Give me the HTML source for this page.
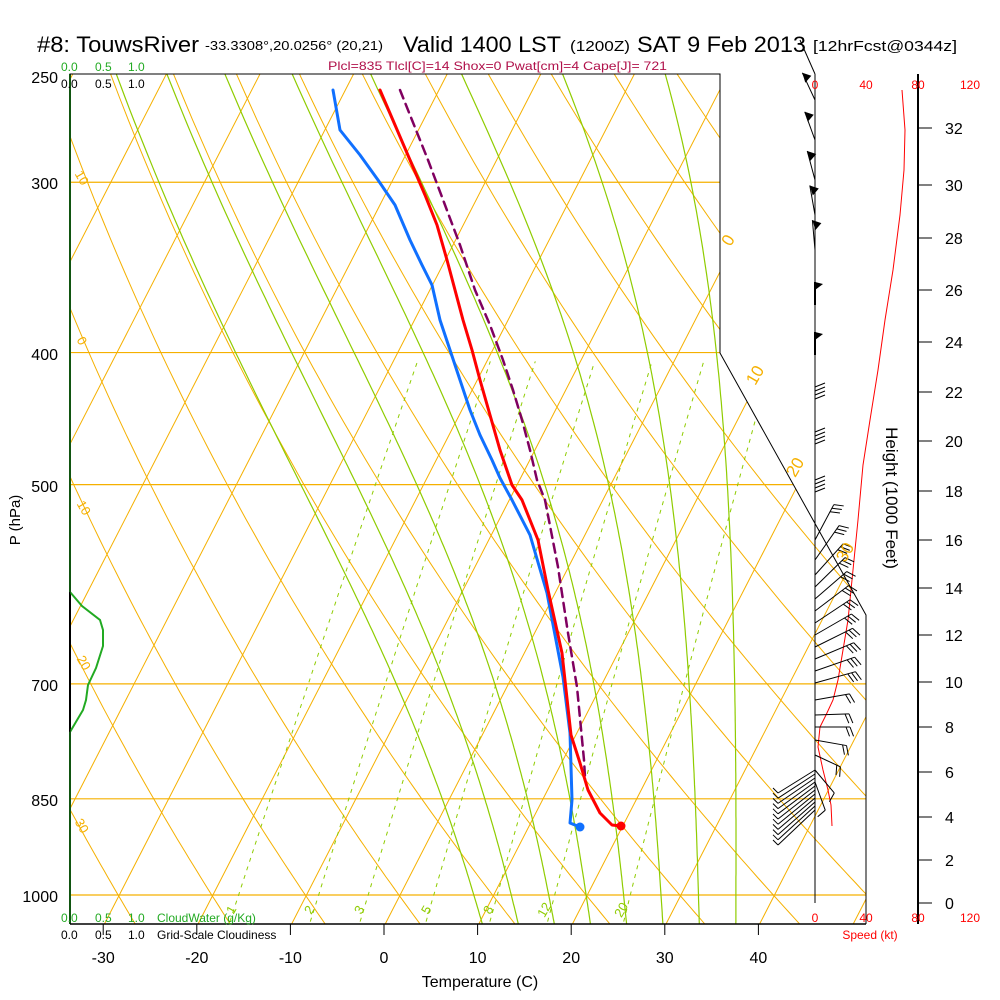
<!DOCTYPE html>
<html><head><meta charset="utf-8"><style>
html,body{margin:0;padding:0;background:#fff;}
svg{display:block;font-family:"Liberation Sans",Arial,sans-serif;}
</style></head><body>
<svg id="s" width="1000" height="1000" viewBox="0 0 1000 1000" xmlns="http://www.w3.org/2000/svg">
<defs><clipPath id="cp"><polygon points="70,74 720,74 720,353 866,615 866,924 70,924"/></clipPath></defs>
<g id="grid" clip-path="url(#cp)"></g>
<g id="prof"></g>
<polyline points="70,924 70,74 720,74 720,353 866,615 866,924" fill="none" stroke="#000" stroke-width="1"/>
<line x1="70" y1="924" x2="866" y2="924" stroke="#000" stroke-width="1.5"/>
<line x1="815" y1="74" x2="815" y2="903" stroke="#000" stroke-width="1"/>
<line x1="918" y1="74" x2="918" y2="924" stroke="#000" stroke-width="2"/>
<line x1="800" y1="40" x2="815" y2="74" stroke="#000" stroke-width="1"/>
<g id="ax"></g>
<text x="37" y="52" font-size="22" textLength="162" lengthAdjust="spacingAndGlyphs">#8: TouwsRiver</text>
<text x="205" y="50" font-size="13" textLength="178" lengthAdjust="spacingAndGlyphs">-33.3308°,20.0256° (20,21)</text>
<text x="403" y="52" font-size="22" textLength="158" lengthAdjust="spacingAndGlyphs">Valid 1400 LST</text>
<text x="570" y="51" font-size="15" textLength="60" lengthAdjust="spacingAndGlyphs">(1200Z)</text>
<text x="637" y="52" font-size="22" textLength="169" lengthAdjust="spacingAndGlyphs">SAT 9 Feb 2013</text>
<text x="813" y="51" font-size="15" textLength="144" lengthAdjust="spacingAndGlyphs">[12hrFcst@0344z]</text>
<text x="328" y="70" font-size="12" fill="#b0104a" textLength="339" lengthAdjust="spacingAndGlyphs">Plcl=835 Tlcl[C]=14 Shox=0 Pwat[cm]=4 Cape[J]= 721</text>
<g font-size="12" fill="#22aa22"><text x="61" y="71">0.0</text><text x="95" y="71">0.5</text><text x="128" y="71">1.0</text>
<text x="61" y="922">0.0</text><text x="95" y="922">0.5</text><text x="128" y="922">1.0</text><text x="157" y="922">CloudWater (g/Kg)</text></g>
<g font-size="12" fill="#000"><text x="61" y="88">0.0</text><text x="95" y="88">0.5</text><text x="128" y="88">1.0</text>
<text x="61" y="939">0.0</text><text x="95" y="939">0.5</text><text x="128" y="939">1.0</text><text x="157" y="939">Grid-Scale Cloudiness</text></g>
<g font-size="12" fill="#ff0000" text-anchor="middle"><text x="815" y="89">0</text><text x="866" y="89">40</text><text x="918" y="89">80</text><text x="970" y="89">120</text>
<text x="815" y="922">0</text><text x="866" y="922">40</text><text x="918" y="922">80</text><text x="970" y="922">120</text>
<text x="870" y="939">Speed (kt)</text></g>
<text x="480" y="987" font-size="16" text-anchor="middle">Temperature (C)</text>
<text transform="translate(20,520) rotate(-90)" font-size="15" text-anchor="middle">P (hPa)</text>
<text transform="translate(886,498) rotate(90)" font-size="17" text-anchor="middle">Height (1000 Feet)</text>
</svg>
<script>
(function(){
var NS="http://www.w3.org/2000/svg";
function el(p,t,a){var e=document.createElementNS(NS,t);for(var k in a)e.setAttribute(k,a[k]);p.appendChild(e);return e;}
function Y(p){return 895-592*Math.log(1000/p);}
function X(T,p){return 384+9.36*T+0.515*(924-Y(p));}
var g=document.getElementById('grid'),ax=document.getElementById('ax'),pr=document.getElementById('prof');
var OR="#f5b000",GR="#8fcc00";
function path(pts){return pts.map(function(q,i){return (i?'L':'M')+q[0].toFixed(1)+','+q[1].toFixed(1);}).join(' ');}
[300,400,500,700,850,1000].forEach(function(p){el(g,'line',{x1:70,x2:870,y1:Y(p),y2:Y(p),stroke:OR,'stroke-width':1.2});});
for(var T=-130;T<=50;T+=10){el(g,'line',{x1:X(T,1046),y1:924,x2:X(T,250),y2:74,stroke:OR,'stroke-width':1});}
for(var th=-40;th<=180;th+=10){var pts=[];for(var p=1050;p>=240;p-=10){var Tk=(th+273.15)*Math.pow(p/1000,0.286);pts.push([X(Tk-273.15,p),Y(p)]);}el(g,'path',{d:path(pts),fill:'none',stroke:OR,'stroke-width':1});}
function es(T){return 6.112*Math.exp(17.67*T/(T+243.5));}
function rs(T,p){var e=es(T);return 0.68*0.622*e/(p-e);}
function step(Tk,p){var r=rs(Tk-273.15,p);return (287*Tk+2.5e6*r)/(p*(1004+2.5e6*2.5e6*r*0.622/(287*Tk*Tk)));}
for(var tw=8;tw<=36;tw+=4){var Tk=tw+273.15,p,up=[],dn=[];
 for(p=1000;p>=240;p-=5){up.push([X(Tk-273.15,p),Y(p)]);Tk-=step(Tk,p)*5;}
 Tk=tw+273.15;for(p=1000;p<=1050;p+=5){dn.push([X(Tk-273.15,p),Y(p)]);Tk+=step(Tk,p)*5;}
 el(g,'path',{d:path(dn.reverse().concat(up)),fill:'none',stroke:GR,'stroke-width':1.2});}
[1,2,3,5,8,12,20].forEach(function(w){var pts=[];for(var p=1046;p>=400;p-=10){var e=w/1000*p/(0.622+w/1000);var l=Math.log(e/6.112);var T=243.5*l/(17.67-l);pts.push([X(T,p),Y(p)]);}el(g,'path',{d:path(pts),fill:'none',stroke:GR,'stroke-width':1,'stroke-dasharray':'4,5'});});
var ml=[["1",235],["2",313],["3",363],["5",430],["8",492],["12",548],["20",625]];
ml.forEach(function(m){var t=el(g,'text',{transform:'translate('+m[1]+',912) rotate(-60)','font-size':13,fill:GR,'text-anchor':'middle'});t.textContent=m[0];});
[["10",78,180],["0",78,343],["10",80,510],["20",80,665],["30",78,828]].forEach(function(m){var t=el(ax,'text',{transform:'translate('+m[1]+','+m[2]+') rotate(60)','font-size':13,fill:OR,'text-anchor':'middle'});t.textContent=m[0];});
[["0",733,243],["10",760,378],["20",800,470],["30",850,555]].forEach(function(m){var t=el(ax,'text',{transform:'translate('+m[1]+','+m[2]+') rotate(-60)','font-size':17,fill:OR,'text-anchor':'middle'});t.textContent=m[0];});
[[250,83],[300,189],[400,360],[500,492],[700,691],[850,806],[1000,902]].forEach(function(m){var t=el(ax,'text',{x:58,y:m[1],'font-size':16,'text-anchor':'end'});t.textContent=m[0];});
for(var T=-30;T<=40;T+=10){var x=384+9.36*T;el(ax,'line',{x1:x,x2:x,y1:924,y2:935,stroke:'#000'});var t=el(ax,'text',{x:x,y:963,'font-size':16,'text-anchor':'middle'});t.textContent=T;}
var hy={0:903,2:860,4:817,6:772,8:727,10:682,12:635,14:588,16:540,18:491,20:441,22:392,24:342,26:290,28:238,30:185,32:128};
for(var h in hy){el(ax,'line',{x1:918,x2:932,y1:hy[h],y2:hy[h],stroke:'#000'});var t=el(ax,'text',{x:945,y:hy[h]+6,'font-size':16});t.textContent=h;}
el(pr,'line',{x1:70,y1:74,x2:70,y2:924,stroke:'#22aa22','stroke-width':2});
el(pr,'line',{x1:70,y1:592,x2:70,y2:732,stroke:'#000','stroke-width':2});
el(pr,'polyline',{points:'70,592 82,606 100,620 103,630 103,646 96,668 88,685 86,700 83,710 70,732',fill:'none',stroke:'#22aa22','stroke-width':2});
el(pr,'polyline',{points:'902,90 905,130 904,170 900,215 893,270 885,320 878,370 870,420 863,465 858,520 853,570 848,620 843,650 838,680 833,700 826,715 820,727 818,747 823,770 828,790 831,805 832,826',fill:'none',stroke:'#ff0000','stroke-width':1});
function barb(y,ang,L,n){var a=ang*Math.PI/180,x2=815+L*Math.cos(a),y2=y-L*Math.sin(a);el(pr,'line',{x1:815,y1:y,x2:x2,y2:y2,stroke:'#000','stroke-width':1});
 for(var i=0;i<n;i++){var bx=815+(L-i*4)*Math.cos(a),by=y-(L-i*4)*Math.sin(a);var fa=a-Math.PI/2.6;el(pr,'line',{x1:bx,y1:by,x2:bx+10*Math.cos(fa),y2:by-10*Math.sin(fa),stroke:'#000','stroke-width':1});}}
[[100,115],[140,110],[180,105],[215,100],[250,95]].forEach(function(b){var a=b[1]*Math.PI/180;var x2=815+30*Math.cos(a),y2=b[0]-30*Math.sin(a);el(pr,'line',{x1:815,y1:b[0],x2:x2,y2:y2,stroke:'#000'});el(pr,'polygon',{points:x2+','+y2+' '+(x2+9)+','+(y2+3)+' '+(x2+3)+','+(y2+10),fill:'#000'});});
[290,340].forEach(function(y){el(pr,'line',{x1:815,y1:y+15,x2:815,y2:y-8,stroke:'#000','stroke-width':2});el(pr,'polygon',{points:'815,'+(y-8)+' 823,'+(y-6)+' 815,'+(y)+'',fill:'#000'});});
[395,440,488].forEach(function(y){el(pr,'line',{x1:815,y1:y+15,x2:815,y2:y-10,stroke:'#000'});for(var i=0;i<4;i++)el(pr,'line',{x1:815,y1:y-8+i*4,x2:825,y2:y-12+i*4,stroke:'#000'});});
barb(540,62,40,3);barb(560,55,42,3);
for(var y=575;y<=690;y+=12){barb(y,48-(y-575)*0.3,42,3);}
barb(700,10,35,2);barb(715,2,34,2);barb(727,0,35,2);barb(740,-10,32,2);barb(755,-25,28,2);barb(770,-50,30,1);barb(782,-70,30,1);
for(var y=790;y<=832;y+=4){var dx=-37,dy=(y-790)*0.3+18;el(pr,'line',{x1:815,y1:y-20,x2:815+dx,y2:y+dy-20+5,stroke:'#000','stroke-width':1});el(pr,'line',{x1:815+dx,y1:y+dy-15,x2:815+dx-5,y2:y+dy-20,stroke:'#000'});}
function poly(s,c,w,d){var a={points:s,fill:'none',stroke:c,'stroke-width':w,'stroke-linejoin':'round','stroke-linecap':'round'};if(d)a['stroke-dasharray']=d;el(pr,'polyline',a);}
poly('400,90 412,120 428,160 445,205 460,245 475,290 490,325 503,360 513,390 522,420 530,450 537,480 545,500 558,567 568,633 577,687 584,760 585,777','#800060',2.5,'9,6');
poly('333,90 340,130 360,155 378,180 395,205 410,240 422,265 432,285 440,320 450,350 460,380 470,410 480,435 492,460 500,478 512,500 530,535 547,593 563,677 570,733 572,800 570,823 580,827','#1070ff',3);
poly('380,90 395,125 410,160 425,195 437,225 447,260 455,290 463,320 472,350 480,380 490,415 500,450 512,485 522,500 538,540 548,590 562,653 571,735 580,763 588,790 600,813 612,825 621,826','#ff0000',3);
el(pr,'circle',{cx:580,cy:827,r:4.5,fill:'#1070ff'});el(pr,'circle',{cx:621,cy:826,r:4.5,fill:'#ff0000'});
})();
</script>
</body></html>
